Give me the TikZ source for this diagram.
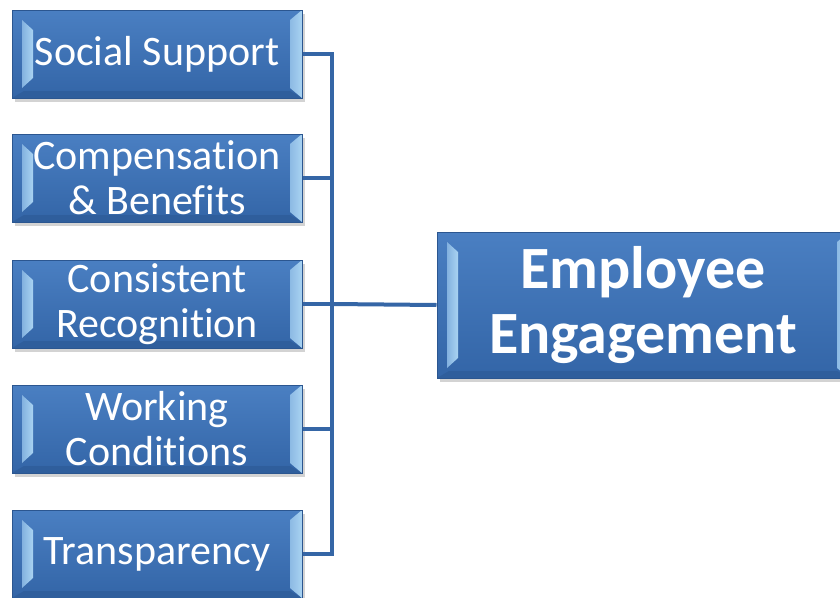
\documentclass[tikz,border=0pt]{standalone}
\usepackage{fontspec}
\setmainfont[Ligatures=NoCommon]{Carlito}
\usepackage{tikz}
\usetikzlibrary{positioning,calc,shadows}

\definecolor{boxtop}{HTML}{4A7FC2}
\definecolor{boxbot}{HTML}{3365A7}
\definecolor{boxedge}{HTML}{2B5690}
\definecolor{bevlight}{HTML}{A9D3F2}
\definecolor{bevdark}{HTML}{2F5E9C}
\definecolor{linkblue}{HTML}{3566A6}

\begin{document}
\begin{tikzpicture}[x=1pt,y=1pt]
        \useasboundingbox (0,0) rectangle (840,-597);
        \tikzstyle{factor} = [draw=boxedge,line width=1pt,top color=boxtop,bottom color=boxbot,
          minimum width=290pt,minimum height=88pt,inner sep=0pt,align=center,text=white,
          font=\fontsize{42}{45}\selectfont,
          drop shadow={shadow xshift=3pt,shadow yshift=-4pt,opacity=0.35},
          path picture={
            % bevelled rim: bottom, left strip, right
            \fill[bevdark] (path picture bounding box.south west) -- (path picture bounding box.south east)
              -- ($(path picture bounding box.south east)+(-12,7)$) -- ($(path picture bounding box.south west)+(12,7)$) -- cycle;
            \shade[left color=bevlight!60!boxtop,right color=bevlight] ($(path picture bounding box.north west)+(10,-10)$)
              -- ($(path picture bounding box.south west)+(10,10)$)
              -- ($(path picture bounding box.south west)+(21,20)$) -- ($(path picture bounding box.north west)+(21,-20)$) -- cycle;
            \shade[left color=bevlight!70!boxtop,right color=bevlight] (path picture bounding box.north east) -- (path picture bounding box.south east)
              -- ($(path picture bounding box.south east)+(-12,10)$) -- ($(path picture bounding box.north east)+(-12,-10)$) -- cycle;
          }]
        \tikzstyle{outcome} = [factor,minimum width=412pt,minimum height=146pt,
          font=\bfseries\fontsize{60}{65}\selectfont]
        \tikzstyle{link} = [draw=linkblue,line width=4pt]

        \foreach \n/\y/\t in {social/54/Social Support,
            comp/178/{Compensation\\\& Benefits},
            recog/304/{Consistent\\Recognition},
            cond/429/{Working\\Conditions},
            transp/554/Transparency}{
          \node[factor] (\n) at (157,-\y) {\t};
        }
        \node[outcome] (engage) at (643,-305) {Employee\\Engagement};

        \coordinate (hub) at (332,-304);
        \foreach \n in {social,comp,recog,cond,transp}
          \draw[link] (\n.east) -| (hub);
        \draw[link] (hub) -- (engage.west);
      \end{tikzpicture}
\end{document}
